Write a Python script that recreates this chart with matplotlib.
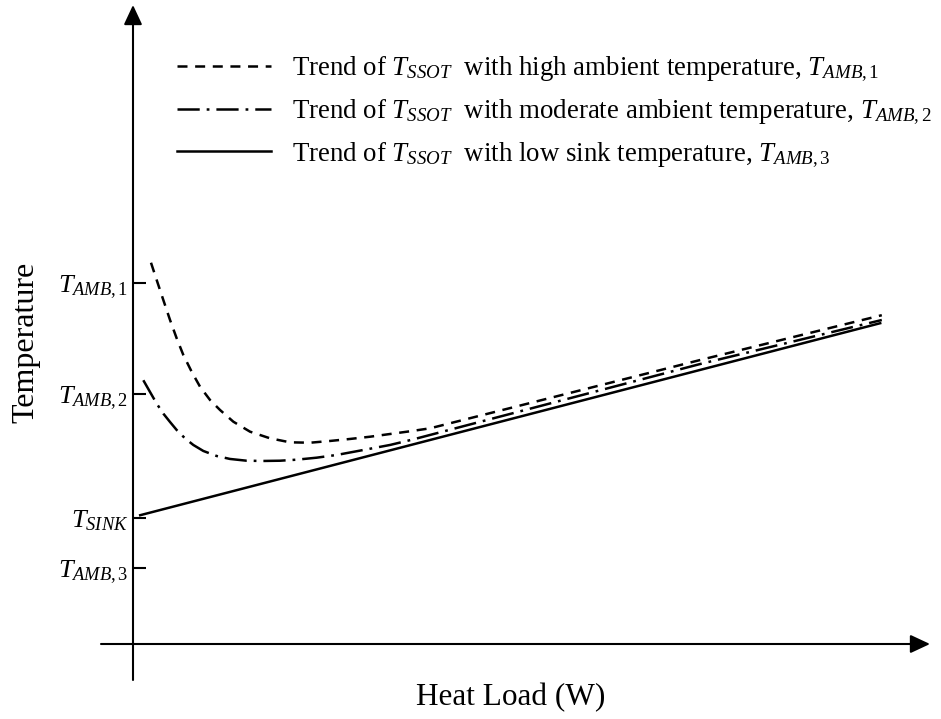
import matplotlib
matplotlib.use("Agg")
import matplotlib.pyplot as plt
import numpy as np

plt.rcParams['font.family'] = ['Liberation Serif', 'DejaVu Serif']
plt.rcParams['mathtext.fontset'] = 'custom'
plt.rcParams['mathtext.it'] = 'Liberation Serif:italic'
plt.rcParams['mathtext.rm'] = 'Liberation Serif'
plt.rcParams['mathtext.bf'] = 'Liberation Serif:bold'
plt.rcParams['lines.scale_dashes'] = False

# ---- data (arbitrary units read from the schematic) ----
load_high = [2.25, 2.96, 3.79, 4.63, 5.46, 6.29, 7.33, 8.38, 9.63, 10.88, 12.54,
             14.63, 17.13, 19.63, 22.13, 24.63, 27.13, 29.63, 32.13, 34.63, 37.13,
             70.9, 93.6]
temp_high = [47.66, 45.50, 43.00, 40.50, 38.21, 36.13, 34.04, 32.16, 30.50, 29.25,
             27.79, 26.54, 25.71, 25.21, 25.16, 25.38, 25.63, 25.91, 26.25, 26.59,
             26.96, 35.5, 41.1]

load_mod = [1.29, 2.13, 2.96, 3.79, 4.63, 5.46, 6.50, 7.54, 8.79, 10.46, 12.13,
            14.21, 16.29, 18.38, 20.46, 22.96, 25.46, 28.79, 32.13, 35.04, 37.13,
            70.9, 93.6]
temp_mod = [32.97, 31.50, 30.05, 28.80, 27.75, 26.75, 25.71, 24.88, 24.13, 23.50,
            23.13, 22.91, 22.88, 22.91, 23.04, 23.29, 23.63, 24.25, 24.88, 25.58,
            26.13, 35.0, 40.5]

load_low = [0.9, 93.4]
temp_low = [16.1, 40.1]

tick_values = [45.1, 31.25, 15.75, 9.5]
tick_labels = [r'$T_{AMB,1}$', r'$T_{AMB,2}$', r'$T_{SINK}$', r'$T_{AMB,3}$']

legend_labels = [
    r'Trend of $T_{SSOT}$  with high ambient temperature, $T_{AMB,1}$',
    r'Trend of $T_{SSOT}$  with moderate ambient temperature, $T_{AMB,2}$',
    r'Trend of $T_{SSOT}$  with low sink temperature, $T_{AMB,3}$',
]

fig = plt.figure(figsize=(9.41, 7.19), dpi=100)
ax = fig.add_axes([0, 0, 1, 1])
ax.set_xlim(-133 / 8, (941 - 133) / 8)
ax.set_ylim((644 - 719) / 8, 644 / 8)
ax.set_facecolor('none')

lw = 1.8
l1, = ax.plot(load_high, temp_high, color='black', lw=lw, linestyle=(0, (7.2, 5.5)))
l2, = ax.plot(load_mod, temp_mod, color='black', lw=lw, linestyle=(0, (16, 5, 2, 5)))
l3, = ax.plot(load_low, temp_low, color='black', lw=lw, linestyle='-')

# axes with arrows
for s in ['top', 'right', 'bottom']:
    ax.spines[s].set_visible(False)
ax.spines['left'].set_position(('data', 0))
ax.spines['left'].set_visible(False)
ax.annotate('', xy=(0, 644 / 8 - 5 / 8), xytext=(0, -36 / 8),
            arrowprops=dict(arrowstyle='-|>,head_length=0.6,head_width=0.28',
                            mutation_scale=20, lw=1.5, color='black',
                            shrinkA=0, shrinkB=0), annotation_clip=False)
ax.annotate('', xy=(797 / 8, 0), xytext=(-32 / 8, 0),
            arrowprops=dict(arrowstyle='-|>,head_length=0.6,head_width=0.28',
                            mutation_scale=20, lw=1.5, color='black',
                            shrinkA=0, shrinkB=0), annotation_clip=False)

ax.set_xticks([])
ax.set_yticks(tick_values)
ax.set_yticklabels(tick_labels, fontsize=19)
ax.tick_params(axis='y', direction='in', length=9, width=1.5, pad=3.5)

fig.text(26 / 941, 1 - 342 / 719, 'Temperature', rotation=90, fontsize=23,
         ha='center', va='center')
fig.text(511 / 941, 1 - 698 / 719, 'Heat Load (W)', fontsize=22.5,
         ha='center', va='center')

leg = ax.legend([l1, l2, l3], legend_labels, loc='upper left',
                bbox_to_anchor=(177 / 941, 1 - 55 / 719), frameon=False,
                fontsize=19.4, handlelength=3.5, handletextpad=0.75,
                labelspacing=0.5, borderpad=0, borderaxespad=0)

fig.savefig('out.png', dpi=100)
